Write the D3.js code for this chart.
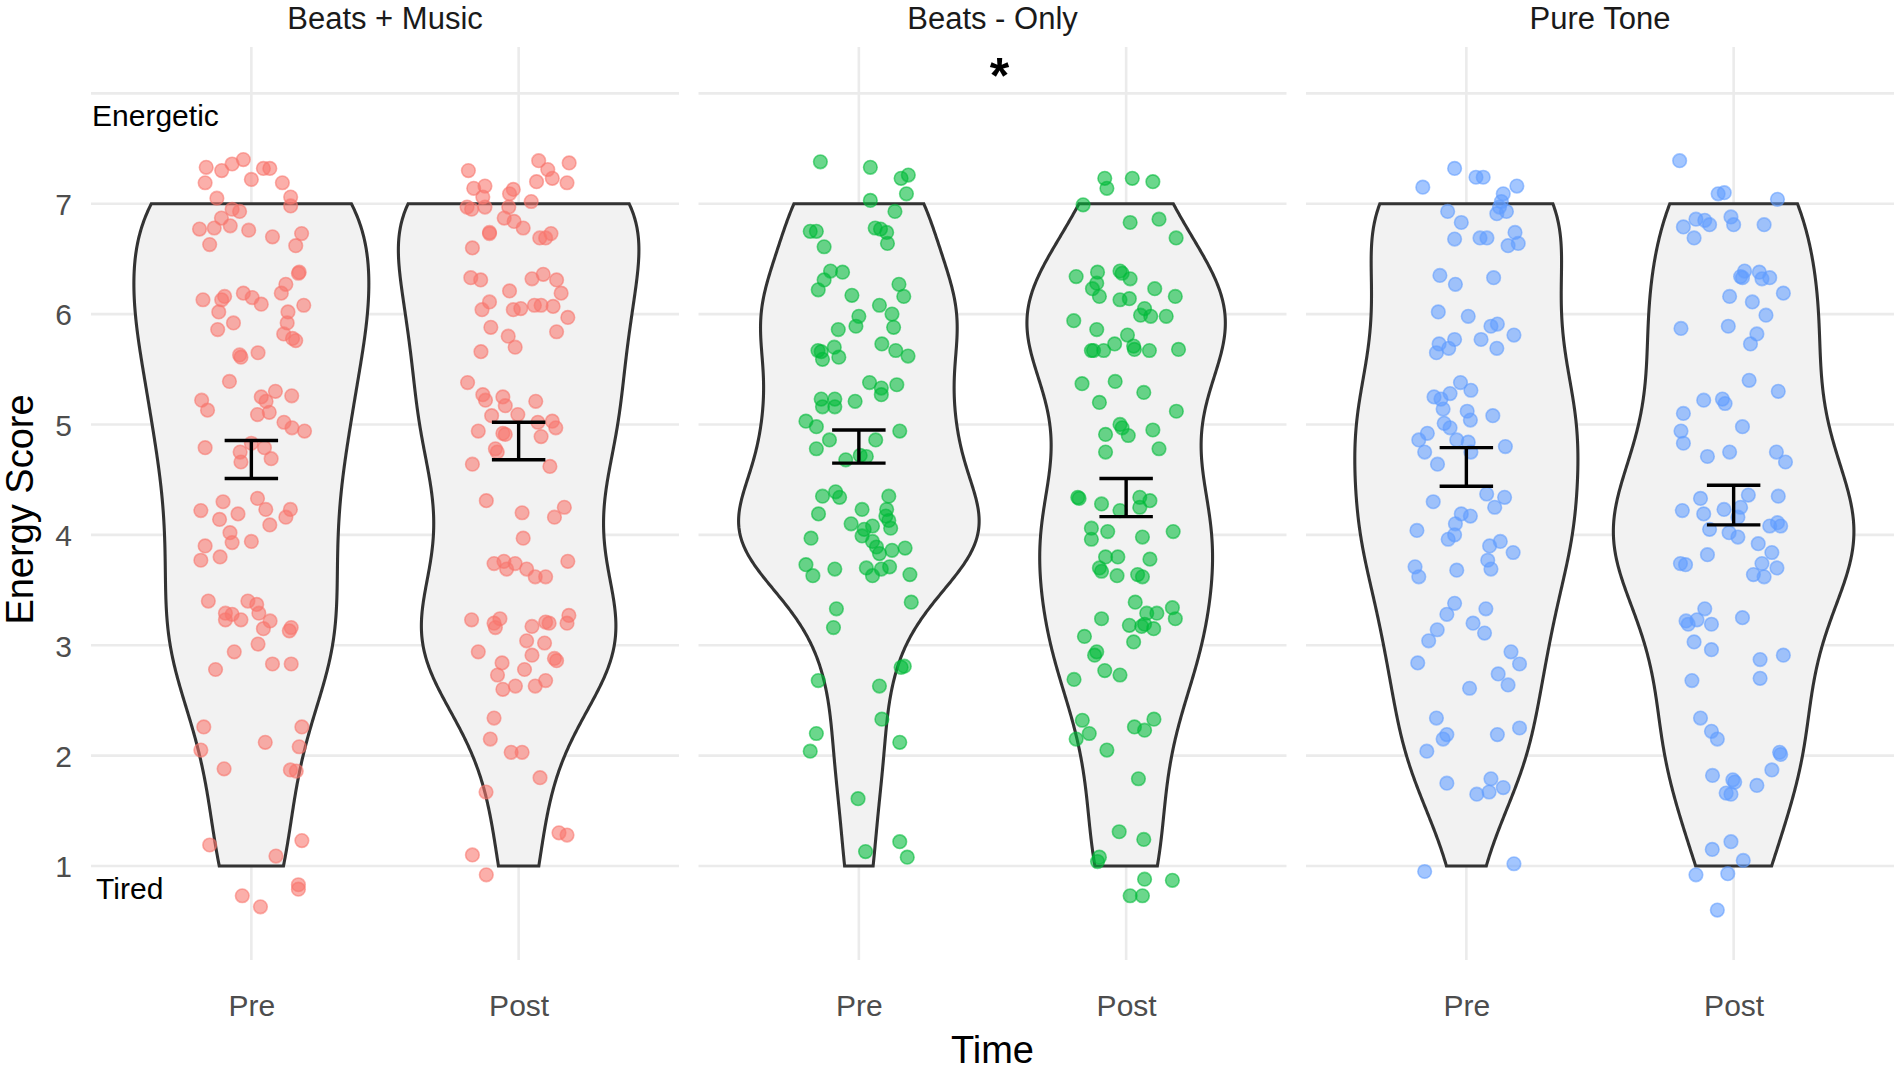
<!DOCTYPE html>
<html>
<head>
<meta charset="utf-8">
<script src="https://cdn.jsdelivr.net/npm/d3@7/dist/d3.min.js"></script>
<style>
  html, body { margin: 0; padding: 0; background: #ffffff; }
  svg { display: block; }
</style>
</head>
<body>
<svg id="chart" width="1902" height="1071"></svg>
<script>
// ---------------- DATA ----------------
const panelNames = ["Beats + Music", "Beats - Only", "Pure Tone"];
const timeLabels = ["Pre", "Post"];
const groupColors = ["#F8766D", "#00BA38", "#619CFF"];
const yTickValues = [1, 2, 3, 4, 5, 6, 7];
const yGridValues = [1, 2, 3, 4, 5, 6, 7, 8];
const yAxisTitle = "Energy Score";
const xAxisTitle = "Time";

// error bars (mean ± SE), [Pre, Post] per panel
const errLow  = [[4.51, 4.68], [4.65, 4.165], [4.44, 4.09]];
const errHigh = [[4.855, 5.02], [4.95, 4.51], [4.79, 4.45]];

// annotations
const annoText = ["Energetic", "Tired"];
const annoX = [0.404, 0.419];
const annoY = [7.8, 0.8];
const sigPanel = 1;
const sigText = "*";
const sigX = 1.526;
const sigY = 8.0;

// jittered points: [x jitter (category units), energy score]
const bmPre = [[-0.169,7.33],[-0.111,7.30],[-0.072,7.36],[-0.030,7.40],[0.045,7.32],[0.069,7.32],[-0.173,7.19],[0.0,7.22],[0.116,7.19],[0.147,7.06],[0.147,6.98],[-0.129,7.05],[-0.072,6.95],[-0.044,6.93],[-0.112,6.87],[-0.139,6.78],[-0.194,6.77],[-0.079,6.80],[-0.010,6.76],[-0.156,6.63],[0.079,6.70],[0.188,6.73],[0.166,6.62],
[-0.181,6.13],[-0.100,6.16],[-0.111,6.13],[-0.030,6.19],[0.003,6.15],[0.037,6.09],[0.112,6.19],[0.129,6.27],[0.179,6.38],[0.176,6.37],[0.196,6.08],[-0.122,6.02],[-0.067,5.92],[-0.126,5.86],[0.137,6.02],[0.134,5.92],[0.121,5.82],[0.154,5.78],[0.166,5.76],[-0.044,5.63],[-0.039,5.61],[0.025,5.65],
[-0.082,5.39],[-0.186,5.22],[-0.164,5.13],[0.037,5.25],[0.055,5.21],[0.090,5.30],[0.151,5.26],[0.023,5.09],[0.067,5.11],[0.122,5.02],[0.152,4.97],[0.199,4.94],[-0.173,4.79],[-0.042,4.75],[0.0,4.83],[0.049,4.79],[0.074,4.69],[-0.039,4.66],
[-0.106,4.30],[0.023,4.33],[-0.189,4.22],[-0.050,4.19],[0.054,4.23],[0.146,4.23],[-0.119,4.14],[0.069,4.09],[0.129,4.16],[-0.080,4.02],[-0.173,3.90],[-0.072,3.93],[0.0,3.94],[-0.189,3.77],[-0.117,3.80],
[-0.161,3.40],[-0.097,3.29],[-0.072,3.28],[-0.097,3.23],[-0.039,3.23],[-0.013,3.40],[0.020,3.37],[0.028,3.29],[0.070,3.22],[0.045,3.15],[0.149,3.16],[0.142,3.13],[0.025,3.01],[-0.064,2.94],[-0.134,2.78],[0.079,2.83],[0.149,2.83],
[-0.178,2.26],[-0.189,2.05],[-0.102,1.88],[0.052,2.12],[0.189,2.26],[0.179,2.08],[0.146,1.87],[0.168,1.86],
[-0.156,1.19],[0.092,1.09],[0.189,1.23],[-0.034,0.73],[0.034,0.63],[0.176,0.83],[0.176,0.79]];

const bmPost = [[-0.188,7.30],[0.075,7.39],[0.189,7.37],[0.109,7.31],[0.067,7.20],[0.126,7.23],[0.181,7.19],[-0.168,7.14],[-0.126,7.16],[-0.020,7.13],[-0.034,7.09],[-0.134,7.06],[-0.126,6.97],[-0.193,6.97],[-0.176,6.95],[-0.037,6.97],[0.047,7.02],[-0.054,6.87],[-0.017,6.84],[0.017,6.78],[-0.109,6.74],[-0.109,6.73],[0.079,6.69],[0.121,6.73],[0.101,6.69],[-0.173,6.60],
[-0.179,6.33],[-0.142,6.31],[0.050,6.32],[0.092,6.36],[0.142,6.31],[-0.034,6.21],[0.159,6.19],[-0.109,6.11],[-0.137,6.04],[-0.020,6.04],[0.008,6.05],[0.059,6.08],[0.084,6.08],[0.129,6.07],[0.184,5.97],[-0.104,5.88],[0.142,5.84],[-0.039,5.80],[-0.013,5.70],[-0.141,5.66],
[-0.191,5.38],[-0.134,5.27],[-0.124,5.22],[-0.059,5.25],[-0.050,5.17],[-0.101,5.08],[-0.003,5.09],[0.064,5.21],[0.126,5.03],[0.139,4.97],[0.072,5.02],[-0.151,4.94],[-0.059,4.92],[-0.050,4.91],[0.084,4.89],[-0.087,4.78],[-0.080,4.75],[-0.173,4.64],[0.117,4.62],
[-0.121,4.31],[0.013,4.20],[0.171,4.25],[0.134,4.16],[0.017,3.97],[-0.092,3.74],[-0.055,3.76],[-0.045,3.69],[-0.013,3.74],[0.030,3.69],[0.062,3.62],[0.101,3.62],[0.184,3.76],
[-0.176,3.23],[-0.092,3.20],[-0.087,3.16],[-0.070,3.24],[0.050,3.17],[0.101,3.21],[0.114,3.20],[0.188,3.27],[0.181,3.20],[0.030,3.04],[0.097,3.02],[-0.151,2.94],[0.050,2.91],[-0.062,2.84],[0.134,2.88],[0.142,2.86],[0.022,2.78],[-0.079,2.73],[0.101,2.68],[0.062,2.63],[-0.012,2.63],[-0.059,2.60],
[-0.092,2.34],[-0.106,2.15],[-0.028,2.03],[0.013,2.03],[0.080,1.80],[-0.122,1.67],
[0.151,1.30],[0.181,1.28],[-0.173,1.10],[-0.121,0.92]];

const boPre = [[-0.144,7.38],[0.043,7.33],[0.158,7.23],[0.185,7.26],[0.178,7.09],[0.043,7.03],[0.135,6.93],[-0.182,6.75],[-0.159,6.75],[0.061,6.78],[0.081,6.77],[0.104,6.74],[0.107,6.64],[-0.130,6.61],
[-0.106,6.39],[-0.061,6.38],[-0.130,6.31],[-0.152,6.22],[0.150,6.27],[0.168,6.16],[-0.026,6.17],[0.077,6.08],[0.0,5.98],[-0.011,5.89],[0.124,6.0],[0.130,5.88],[-0.077,5.86],[0.086,5.73],[0.138,5.67],[0.184,5.62],[-0.153,5.67],[-0.141,5.66],[-0.136,5.59],[-0.092,5.70],[-0.075,5.61],
[0.040,5.38],[0.084,5.33],[0.142,5.36],[0.084,5.27],[-0.141,5.23],[-0.090,5.23],[-0.136,5.16],[-0.090,5.16],[-0.014,5.21],[-0.198,5.03],[-0.159,4.98],[0.153,4.94],[-0.110,4.86],[0.063,4.86],[-0.159,4.78],[-0.049,4.68],[0.005,4.72],[0.028,4.71],
[-0.136,4.35],[-0.087,4.39],[-0.072,4.34],[0.112,4.35],[0.012,4.23],[-0.151,4.19],[0.104,4.23],[0.101,4.17],[0.112,4.13],[-0.029,4.10],[0.020,4.05],[0.051,4.08],[0.119,4.06],[-0.179,3.97],[0.012,3.99],[0.051,3.94],[0.066,3.89],[0.077,3.83],[0.124,3.86],[0.173,3.88],[-0.198,3.73],[-0.172,3.63],[-0.090,3.69],[0.028,3.70],[0.051,3.63],[0.084,3.69],[0.115,3.71],[0.191,3.64],
[0.196,3.39],[-0.084,3.33],[-0.095,3.16],[0.158,2.80],[0.170,2.81],[-0.152,2.68],[0.077,2.63],
[0.086,2.33],[-0.159,2.20],[-0.182,2.04],[0.153,2.12],
[-0.003,1.61],[0.025,1.13],[0.153,1.22],[0.181,1.08]];

const boPost = [[-0.080,7.23],[-0.072,7.14],[0.023,7.23],[0.100,7.20],[-0.161,6.99],[0.015,6.83],[0.123,6.86],[0.187,6.69],
[-0.187,6.34],[-0.107,6.38],[-0.023,6.39],[-0.015,6.37],[0.015,6.32],[-0.110,6.28],[-0.126,6.23],[-0.100,6.16],[-0.023,6.13],[0.012,6.14],[0.107,6.23],[0.184,6.16],[0.069,6.05],[0.054,5.99],[0.092,5.98],[0.150,5.98],[-0.196,5.94],[-0.110,5.86],[0.005,5.81],[-0.043,5.73],[0.028,5.71],[-0.130,5.67],[-0.122,5.67],[-0.084,5.67],[0.031,5.68],[0.087,5.67],[0.196,5.68],
[-0.165,5.37],[-0.041,5.39],[0.066,5.29],[-0.100,5.20],[0.188,5.12],[-0.023,5.0],[-0.015,4.97],[-0.077,4.91],[0.008,4.90],[0.100,4.95],[0.123,4.78],[-0.077,4.75],
[-0.181,4.34],[-0.176,4.33],[-0.092,4.28],[0.051,4.34],[0.089,4.31],[-0.023,4.22],[0.051,4.25],[-0.130,4.06],[-0.069,4.03],[0.061,3.98],[0.176,4.03],[-0.130,3.96],[-0.077,3.80],[-0.031,3.80],[0.089,3.78],[-0.100,3.70],[-0.092,3.67],[-0.034,3.63],[0.043,3.64],[0.061,3.62],
[0.034,3.39],[-0.092,3.24],[0.077,3.29],[0.115,3.29],[0.173,3.34],[0.184,3.24],[0.012,3.18],[0.058,3.17],[0.069,3.19],[0.103,3.15],[0.028,3.03],[-0.156,3.08],[-0.110,2.94],[-0.118,2.91],[-0.080,2.77],[-0.023,2.73],[-0.195,2.69],
[-0.164,2.32],[-0.138,2.20],[-0.187,2.15],[0.031,2.26],[0.069,2.23],[0.104,2.33],[-0.072,2.05],[0.046,1.79],
[-0.026,1.31],[0.066,1.24],[-0.100,1.08],[-0.107,1.04],[0.069,0.88],[0.173,0.87],[0.015,0.73],[0.061,0.73]];

const ptPre = [[-0.163,7.15],[-0.044,7.32],[0.036,7.24],[0.063,7.24],[0.189,7.16],[0.138,7.09],[0.131,7.02],[0.124,6.97],[0.114,6.91],[0.150,6.93],[-0.070,6.93],[-0.019,6.83],[-0.044,6.68],[0.051,6.69],[0.077,6.69],[0.182,6.74],[0.156,6.62],[0.194,6.64],
[-0.099,6.35],[-0.041,6.27],[0.102,6.33],[-0.105,6.02],[0.007,5.98],[0.092,5.89],[0.116,5.91],[0.178,5.81],[-0.044,5.77],[0.055,5.77],[-0.102,5.73],[-0.066,5.69],[0.114,5.69],[-0.112,5.65],
[-0.022,5.38],[0.017,5.31],[-0.121,5.25],[-0.095,5.23],[-0.061,5.28],[-0.087,5.14],[0.003,5.12],[0.015,5.04],[0.099,5.08],[-0.083,5.01],[-0.061,4.97],[-0.146,4.92],[-0.178,4.86],[-0.036,4.86],[0.007,4.84],[-0.156,4.75],[0.017,4.75],[0.146,4.80],[-0.108,4.64],
[0.076,4.37],[0.143,4.34],[-0.124,4.30],[0.106,4.25],[-0.019,4.19],[0.015,4.17],[-0.041,4.10],[-0.185,4.04],[0.127,3.94],[-0.068,3.96],[-0.044,4.0],[0.087,3.90],[0.175,3.84],[0.080,3.77],[0.092,3.69],[-0.192,3.71],[-0.178,3.62],[-0.036,3.68],
[-0.044,3.38],[-0.073,3.28],[0.073,3.33],[0.025,3.20],[0.068,3.11],[-0.109,3.14],[-0.141,3.04],[-0.182,2.84],[0.167,2.94],[0.199,2.83],[0.119,2.74],[0.156,2.64],[0.012,2.61],
[-0.112,2.34],[-0.073,2.19],[-0.087,2.15],[0.116,2.19],[0.199,2.25],[-0.148,2.04],[-0.073,1.75],[0.092,1.79],[0.039,1.65],[0.085,1.67],[0.138,1.71],
[-0.156,0.95],[0.178,1.02]];

const ptPost = [[-0.202,7.39],[-0.058,7.09],[-0.035,7.10],[0.164,7.04],[-0.010,6.88],[0.0,6.81],[-0.141,6.86],[-0.108,6.85],[-0.090,6.81],[-0.188,6.79],[-0.148,6.69],[0.114,6.81],
[0.041,6.39],[0.026,6.34],[0.033,6.33],[0.096,6.38],[0.106,6.32],[0.135,6.33],[0.186,6.19],[-0.015,6.16],[0.070,6.11],[0.121,5.99],[-0.197,5.87],[-0.020,5.89],[0.087,5.82],[0.063,5.73],
[0.058,5.40],[0.167,5.30],[-0.112,5.22],[-0.042,5.23],[-0.032,5.19],[-0.188,5.10],[0.033,4.98],[-0.197,4.94],[-0.188,4.83],[-0.098,4.71],[-0.015,4.75],[0.160,4.75],[0.194,4.66],
[-0.124,4.33],[0.055,4.36],[0.167,4.35],[-0.192,4.22],[-0.112,4.19],[-0.036,4.23],[0.026,4.25],[0.016,4.16],[0.135,4.08],[0.164,4.11],[0.176,4.08],[-0.090,4.05],[-0.017,4.02],[0.016,3.98],[0.092,3.92],[0.143,3.84],[-0.098,3.82],[-0.199,3.74],[-0.180,3.73],[0.106,3.74],[0.162,3.70],[0.074,3.64],[0.114,3.62],
[-0.108,3.33],[-0.178,3.22],[-0.170,3.19],[-0.137,3.23],[-0.083,3.19],[0.033,3.25],[-0.148,3.03],[-0.083,2.96],[0.099,2.87],[0.186,2.91],[0.099,2.70],[-0.156,2.68],
[-0.124,2.34],[-0.083,2.22],[-0.061,2.15],[0.172,2.03],[0.176,2.01],[0.143,1.87],[-0.079,1.82],[-0.003,1.78],[0.004,1.76],[-0.028,1.66],[-0.010,1.65],[0.087,1.73],
[-0.080,1.15],[-0.010,1.22],[0.036,1.05],[-0.141,0.92],[-0.022,0.93],[-0.061,0.60]];

const pointsByPanel = [[bmPre, bmPost], [boPre, boPost], [ptPre, ptPost]];

// ---------------- LAYOUT ----------------
const W = 1902, H = 1071;
const panelLeft = [91, 698.5, 1306];
const panelWidth = 588;
const panelTop = 47, panelBottom = 960;

const svg = d3.select("#chart");
svg.append("rect").attr("width", W).attr("height", H).attr("fill", "#ffffff");

const y = d3.scaleLinear().domain([0.148, 8.42]).range([panelBottom, panelTop]);

const FONT = "'Liberation Sans', Arial, Helvetica, sans-serif";

// KDE like ggplot2 stat_ydensity (gaussian, bw.nrd0, trimmed)
function violinDensity(vals) {
  const v = vals.slice().sort(d3.ascending);
  const n = v.length;
  const sd = d3.deviation(v);
  const iqr = d3.quantileSorted(v, 0.75) - d3.quantileSorted(v, 0.25);
  let lo = Math.min(sd, iqr / 1.34);
  if (!(lo > 0)) lo = sd || Math.abs(v[0]) || 1;
  const bw = 0.9 * lo * Math.pow(n, -0.2);
  const lo0 = v[0], hi0 = v[n - 1];
  const grid = d3.range(512).map(i => lo0 + (hi0 - lo0) * i / 511);
  const c = 1 / (n * bw * Math.sqrt(2 * Math.PI));
  return grid.map(g => {
    let s = 0;
    for (const xi of v) { const z = (g - xi) / bw; s += Math.exp(-0.5 * z * z); }
    return [g, s * c];
  });
}

panelNames.forEach((name, p) => {
  const x = d3.scaleLinear().domain([0.4, 2.6]).range([panelLeft[p], panelLeft[p] + panelWidth]);
  const unit = x(2) - x(1);
  const g = svg.append("g");

  // grid
  g.selectAll(".hg").data(yGridValues).enter().append("line")
    .attr("x1", x(0.4)).attr("x2", x(2.6))
    .attr("y1", d => y(d)).attr("y2", d => y(d))
    .attr("stroke", "#EBEBEB").attr("stroke-width", 2.6);
  g.selectAll(".vg").data([1, 2]).enter().append("line")
    .attr("x1", d => x(d)).attr("x2", d => x(d))
    .attr("y1", panelTop).attr("y2", panelBottom)
    .attr("stroke", "#EBEBEB").attr("stroke-width", 2.6);

  // violins
  const dens = pointsByPanel[p].map(pts => violinDensity(pts.map(d => Math.round(d[1]))));
  const maxD = d3.max(dens, ds => d3.max(ds, d => d[1]));
  dens.forEach((ds, t) => {
    const cx = x(t + 1);
    const right = ds.map(d => [cx + (d[1] / maxD) * 0.45 * unit, y(d[0])]);
    const left = ds.slice().reverse().map(d => [cx - (d[1] / maxD) * 0.45 * unit, y(d[0])]);
    g.append("path")
      .attr("d", d3.line()(right.concat(left)) + "Z")
      .attr("fill", "#F2F2F2")
      .attr("stroke", "#333333")
      .attr("stroke-width", 3.1)
      .attr("stroke-linejoin", "miter");
  });

  // jittered points
  pointsByPanel[p].forEach((pts, t) => {
    g.selectAll(null).data(pts).enter().append("circle")
      .attr("cx", d => x(t + 1 + d[0]))
      .attr("cy", d => y(d[1]))
      .attr("r", 6.8)
      .attr("fill", groupColors[p]).attr("fill-opacity", 0.58)
      .attr("stroke", groupColors[p]).attr("stroke-opacity", 0.58)
      .attr("stroke-width", 1.6);
  });

  // error bars
  [0, 1].forEach(t => {
    const cx = x(t + 1), hw = 0.1 * unit;
    const lo = y(errLow[p][t]), hi = y(errHigh[p][t]);
    const eg = g.append("g").attr("stroke", "#000").attr("stroke-width", 3.4).attr("fill", "none");
    eg.append("line").attr("x1", cx).attr("x2", cx).attr("y1", lo).attr("y2", hi);
    eg.append("line").attr("x1", cx - hw).attr("x2", cx + hw).attr("y1", lo).attr("y2", lo);
    eg.append("line").attr("x1", cx - hw).attr("x2", cx + hw).attr("y1", hi).attr("y2", hi);
  });

  // strip title
  svg.append("text")
    .attr("x", x(1.5)).attr("y", 29)
    .attr("text-anchor", "middle")
    .attr("font-family", FONT).attr("font-size", 31)
    .attr("fill", "#1A1A1A")
    .text(name);

  // x axis
  const xAxis = d3.axisBottom(x).tickValues([1, 2]).tickFormat(d => timeLabels[d - 1]).tickSize(0).tickPadding(35);
  const ax = svg.append("g").attr("transform", `translate(0,${panelBottom})`).call(xAxis);
  ax.select(".domain").remove();
  ax.selectAll("text").attr("font-family", FONT).attr("font-size", 30).attr("fill", "#4D4D4D");

  // significance marker
  if (p === sigPanel) {
    svg.append("text")
      .attr("x", x(sigX)).attr("y", y(sigY))
      .attr("text-anchor", "middle")
      .attr("font-family", FONT).attr("font-size", 50).attr("font-weight", "bold")
      .attr("fill", "#000")
      .text(sigText);
  }

  // annotations (first panel)
  if (p === 0) {
    annoText.forEach((txt, i) => {
      svg.append("text")
        .attr("x", x(annoX[i])).attr("y", y(annoY[i]))
        .attr("dominant-baseline", "central")
        .attr("font-family", FONT).attr("font-size", 30)
        .attr("fill", "#000")
        .text(txt);
    });
  }
});

// y axis
const yAxis = d3.axisLeft(y).tickValues(yTickValues).tickFormat(d3.format("d")).tickSize(0).tickPadding(19);
const ay = svg.append("g").attr("transform", `translate(${panelLeft[0]},0)`).call(yAxis);
ay.select(".domain").remove();
ay.selectAll("text").attr("font-family", FONT).attr("font-size", 30).attr("fill", "#4D4D4D").attr("dy", "0.36em");

// axis titles
svg.append("text")
  .attr("x", (panelLeft[0] + panelLeft[2] + panelWidth) / 2).attr("y", 1063)
  .attr("text-anchor", "middle")
  .attr("font-family", FONT).attr("font-size", 38).attr("fill", "#000")
  .text(xAxisTitle);
svg.append("text")
  .attr("transform", `translate(33,${(panelTop + panelBottom) / 2 + 6}) rotate(-90)`)
  .attr("text-anchor", "middle")
  .attr("font-family", FONT).attr("font-size", 38).attr("fill", "#000")
  .text(yAxisTitle);
</script>
</body>
</html>
